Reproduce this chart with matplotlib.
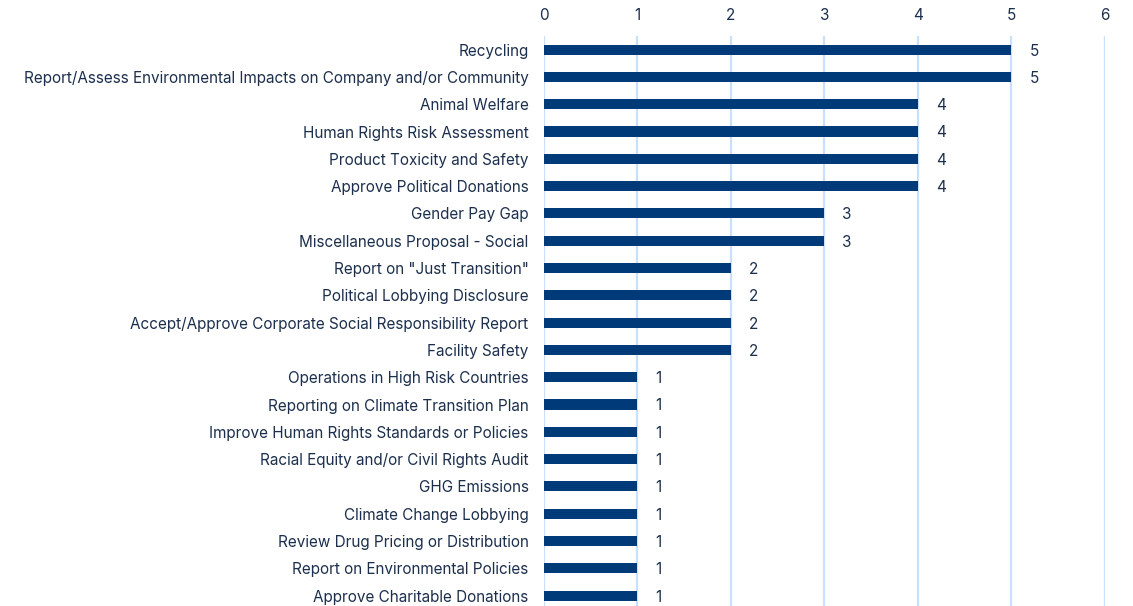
import matplotlib
matplotlib.use("Agg")
import matplotlib.pyplot as plt

categories = [
    "Recycling",
    "Report/Assess Environmental Impacts on Company and/or Community",
    "Animal Welfare",
    "Human Rights Risk Assessment",
    "Product Toxicity and Safety",
    "Approve Political Donations",
    "Gender Pay Gap",
    "Miscellaneous Proposal - Social",
    "Report on \"Just Transition\"",
    "Political Lobbying Disclosure",
    "Accept/Approve Corporate Social Responsibility Report",
    "Facility Safety",
    "Operations in High Risk Countries",
    "Reporting on Climate Transition Plan",
    "Improve Human Rights Standards or Policies",
    "Racial Equity and/or Civil Rights Audit",
    "GHG Emissions",
    "Climate Change Lobbying",
    "Review Drug Pricing or Distribution",
    "Report on Environmental Policies",
    "Approve Charitable Donations",
]
counts = [5, 5, 4, 4, 4, 4, 3, 3, 2, 2, 2, 2, 1, 1, 1, 1, 1, 1, 1, 1, 1]
x_ticks = [0, 1, 2, 3, 4, 5, 6]

BAR = "#003a78"
GRID = "#c8e0fb"
TEXT = "#1c2f4d"

plt.rcParams["font.family"] = ["Inter", "DejaVu Sans"]

fig = plt.figure(figsize=(11.33, 6.06), dpi=100)
ax = fig.add_axes([0.480, 0.0, 0.495, (606 - 36) / 606])

ypos = list(range(len(categories)))
ax.barh(ypos, counts, height=0.37, color=BAR, zorder=3)
for y, v in zip(ypos, counts):
    ax.annotate(str(v), (v, y), xytext=(13, -1), textcoords="offset points",
                va="center", ha="left", fontsize=11, color=TEXT)

ax.set_xlim(0, 6)
ax.set_ylim(20.38, -0.5)
ax.set_xticks(x_ticks)
ax.set_yticks(ypos)
ax.set_yticklabels(categories)
ax.xaxis.tick_top()
ax.tick_params(axis="both", length=0, labelsize=11, labelcolor=TEXT)
ax.tick_params(axis="y", pad=11)
ax.tick_params(axis="x", pad=9)
ax.grid(axis="x", color=GRID, linewidth=1.6, zorder=0)
for spine in ax.spines.values():
    spine.set_visible(False)
ax.set_facecolor("none")

fig.savefig("out.png", dpi=100, facecolor="white")
